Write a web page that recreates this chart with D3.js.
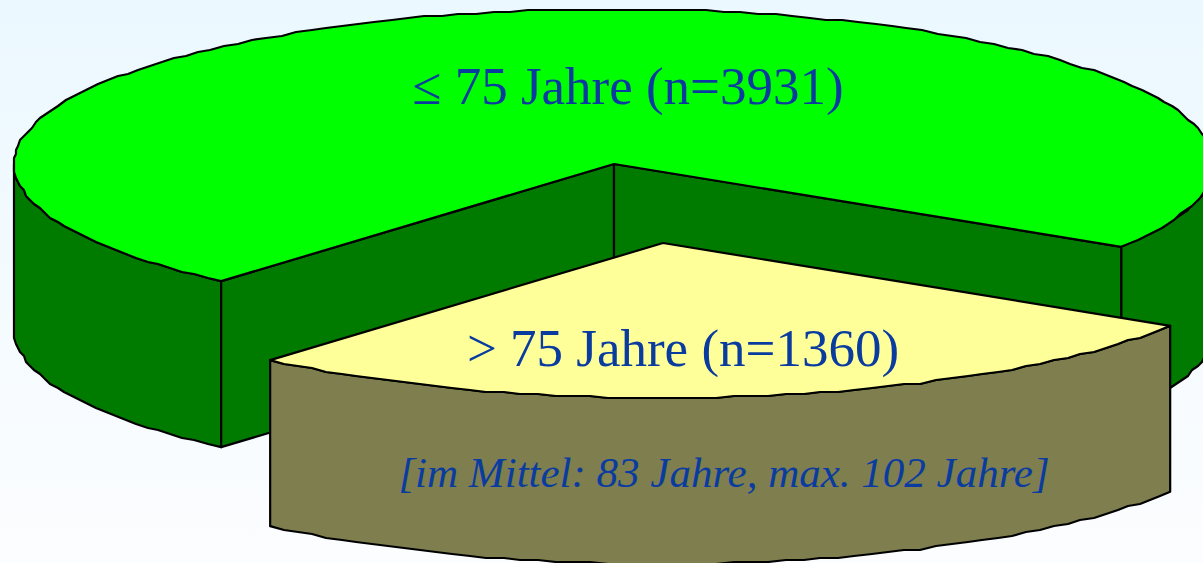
<!DOCTYPE html>
<html>
<head>
<meta charset="utf-8">
<script src="https://cdn.jsdelivr.net/npm/d3@7"></script>
<style>
html, body { margin: 0; padding: 0; overflow: hidden; background: #f4fbff; }
svg { display: block; }
</style>
</head>
<body>
<div id="chart-area"></div>
<script>
// Altersgruppen
const groups = ["≤ 75 Jahre", "> 75 Jahre"];
const counts = [3931, 1360];
// share of the circle as drawn in the picture (%), slightly off from the n's
const drawnShares = [72.61, 27.39];
const note = "[im Mittel: 83 Jahre, max. 102 Jahre]";

const width = 1203;
const height = 563;
const rx = 600, ry = 155, depth = 166;
const center = [614, 164];
const explode = [49, 79];   // offset of the pulled out slice
const startDeg = 220.9;
const rad = Math.PI / 180;

const svg = d3.select("#chart-area").append("svg")
	.attr("width", width)
	.attr("height", height);

const grad = svg.append("defs").append("linearGradient")
	.attr("id", "bg")
	.attr("x1", 0).attr("y1", 0).attr("x2", 0).attr("y2", 1);
grad.append("stop").attr("offset", "0%").attr("stop-color", "#ebf8ff");
grad.append("stop").attr("offset", "100%").attr("stop-color", "#fcfdff");

svg.append("rect")
	.attr("width", width)
	.attr("height", height)
	.attr("fill", "url(#bg)");

const pie = d3.pie()
	.sort(null)
	.startAngle(startDeg * rad)
	.endAngle((startDeg + 360) * rad);
const slices = pie(drawnShares);

const line = d3.line();

function onRim(a, c) {
	return [c[0] + rx * Math.sin(a), c[1] - ry * Math.cos(a)];
}

// the rim in the original is a rough polyline, so sample coarse and snap to a grid
function rim(a0, a1, c) {
	const step = 1.7 * rad;
	const inner = d3.range(a0 + step, a1 - step / 2, step).map(a => {
		const p = onRim(a, c);
		return [Math.round(p[0] / 2) * 2, Math.round(p[1] / 2) * 2];
	});
	return [onRim(a0, c), ...inner, onRim(a1, c)];
}

function drop(points) {
	return points.map(p => [p[0], p[1] + depth]);
}

function sidePath(a0, a1, c) {
	const top = rim(a0, a1, c);
	return line([...top, ...drop(top).reverse()]) + "Z";
}

function wallPath(a, c) {
	const p = onRim(a, c);
	return line([c, p, [p[0], p[1] + depth], [c[0], c[1] + depth]]) + "Z";
}

function drawShape(d, fill) {
	svg.append("path")
		.attr("d", d)
		.attr("fill", fill)
		.attr("stroke", "#000")
		.attr("stroke-width", 2.2)
		.attr("stroke-linejoin", "round");
}

const green = slices[0];
const yellow = slices[1];
const yellowCenter = [center[0] + explode[0], center[1] + explode[1]];

// grüner Teil: Außenseiten, Schnittflächen, Deckel
drawShape(sidePath(green.startAngle, 270 * rad, center), "#007b00");
drawShape(sidePath(450 * rad, green.endAngle, center), "#007b00");
drawShape(wallPath(green.startAngle, center), "#007b00");
drawShape(wallPath(green.endAngle, center), "#007b00");
drawShape(line([center, ...rim(green.startAngle, green.endAngle, center)]) + "Z", "#00ff00");

// gelber Teil
drawShape(sidePath(yellow.startAngle, yellow.endAngle, yellowCenter), "#7e7e4e");
drawShape(line([yellowCenter, ...rim(yellow.startAngle, yellow.endAngle, yellowCenter)]) + "Z", "#ffff99");

// Beschriftung
function label(txt, x, y, size, italic) {
	svg.append("text")
		.attr("x", x)
		.attr("y", y)
		.attr("text-anchor", "middle")
		.attr("font-family", "'Liberation Serif', serif")
		.attr("font-size", size)
		.attr("font-style", italic ? "italic" : "normal")
		.attr("fill", "#0a3ca0")
		.text(txt);
}

label(`${groups[0]} (n=${counts[0]})`, 628, 104, 53);
label(`${groups[1]} (n=${counts[1]})`, 683, 366, 53);
label(note, 724, 487, 43, true);
</script>
</body>
</html>
